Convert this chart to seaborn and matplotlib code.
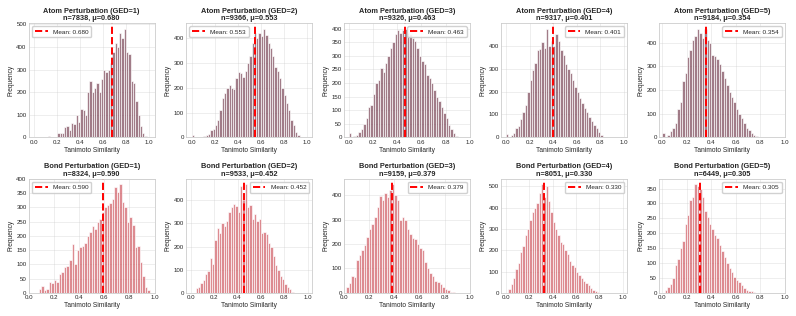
import numpy as np
import pandas as pd
import matplotlib
matplotlib.use("Agg")
import matplotlib.pyplot as plt
import seaborn as sns

# bins of width 0.02 from 0.0 to 1.0, counts
bin_edges = [round(0.02 * i, 2) for i in range(51)]
bin_centers = [round(0.02 * i + 0.01, 3) for i in range(50)]


def pad(start, vals):
    # place counts starting at bin index `start`, zeros elsewhere
    out = [0] * 50
    for i, v in enumerate(vals):
        out[start + i] = v
    return out


# Atom perturbation, GED = 1..5
atom_ged1 = pad(6, [5, 0, 0, 0, 20, 20, 20, 45, 50, 35, 65, 60, 100, 70, 125, 120, 100,
                    200, 250, 200, 220, 240, 200, 260, 300, 290, 300, 330, 380, 420, 400,
                    460, 440, 482, 380, 370, 250, 240, 160, 100, 50, 20, 5])
atom_ged2 = pad(0, [10, 0, 0, 0, 0, 5, 10, 15, 30, 35, 50, 70, 110, 160, 180, 200, 210, 200,
                    195, 240, 265, 260, 245, 270, 300, 330, 380, 420, 400, 420, 410, 440,
                    415, 380, 360, 330, 285, 270, 240, 200, 170, 140, 110, 70, 50, 20, 10])
atom_ged3 = pad(0, [15, 0, 5, 10, 20, 30, 50, 70, 110, 120, 160, 200, 210, 255, 240, 275,
                    300, 330, 350, 380, 395, 385, 395, 400, 385, 380, 365, 355, 330, 300,
                    280, 270, 230, 220, 200, 175, 150, 135, 110, 90, 70, 45, 30, 15, 5])
atom_ged4 = pad(0, [15, 0, 10, 20, 40, 50, 80, 110, 140, 200, 250, 295, 325, 380, 385, 415,
                    390, 475, 400, 420, 400, 450, 420, 380, 360, 320, 300, 280, 250, 220,
                    200, 170, 150, 130, 110, 90, 70, 55, 40, 25, 10, 3])
atom_ged5 = pad(0, [20, 0, 10, 25, 40, 60, 120, 150, 240, 270, 340, 370, 410, 430, 460, 440,
                    420, 460, 410, 400, 350, 345, 330, 310, 280, 250, 220, 190, 170, 150,
                    120, 100, 80, 60, 40, 30, 20, 12, 5, 2])

# Bond perturbation, GED = 1..5
bond_ged1 = pad(4, [15, 25, 10, 15, 40, 35, 45, 40, 65, 75, 90, 95, 115, 170, 100, 150, 160,
                    165, 175, 200, 215, 235, 225, 250, 260, 285, 300, 310, 315, 330, 370,
                    355, 382, 320, 300, 250, 265, 240, 160, 165, 110, 60, 20, 10])
bond_ged2 = pad(2, [20, 25, 45, 55, 80, 95, 150, 125, 230, 280, 260, 300, 290, 310, 350, 370,
                    385, 375, 350, 460, 400, 470, 370, 380, 320, 340, 310, 320, 260, 265,
                    255, 215, 200, 160, 120, 100, 75, 60, 40, 25, 15, 5])
bond_ged3 = pad(1, [25, 40, 70, 65, 135, 155, 175, 195, 230, 260, 280, 310, 350, 395, 380,
                    410, 390, 420, 445, 400, 380, 300, 310, 300, 260, 240, 225, 220, 200,
                    185, 175, 125, 100, 80, 70, 50, 45, 35, 25, 15, 10, 5, 3])
bond_ged4 = pad(1, [20, 40, 70, 110, 140, 190, 220, 270, 300, 340, 380, 400, 420, 470, 510,
                    450, 500, 430, 380, 330, 300, 270, 240, 230, 200, 180, 150, 130, 120,
                    100, 85, 70, 55, 45, 35, 25, 15, 10, 5])
bond_ged5 = pad(1, [10, 20, 30, 50, 95, 115, 150, 175, 230, 260, 310, 320, 365, 360, 350,
                    320, 275, 255, 230, 215, 195, 185, 160, 140, 120, 100, 85, 70, 55, 45,
                    35, 25, 15, 10, 8, 5, 3])

atom_counts = [atom_ged1, atom_ged2, atom_ged3, atom_ged4, atom_ged5]
bond_counts = [bond_ged1, bond_ged2, bond_ged3, bond_ged4, bond_ged5]
atom_n = [7838, 9366, 9326, 9317, 9184]
atom_mean = [0.680, 0.553, 0.463, 0.401, 0.354]
bond_n = [8324, 9533, 9159, 8051, 6449]
bond_mean = [0.590, 0.452, 0.379, 0.330, 0.305]
ged_levels = [1, 2, 3, 4, 5]

atom_legend_loc = ["upper left", "upper left", "upper right", "upper right", "upper right"]
bond_legend_loc = ["upper left", "upper right", "upper right", "upper right", "upper right"]
atom_xlim = [(-0.05, 1.05), (-0.05, 1.05), (-0.04, 1.0), (-0.04, 1.03), (-0.03, 1.0)]
bond_xlim = [(0.0, 1.0), (-0.04, 1.04), (0.0, 1.0), (-0.04, 1.04), (-0.03, 1.0)]

sns.set_theme(style="whitegrid")
plt.rcParams["font.family"] = ["Liberation Sans", "DejaVu Sans"]

fig, axes = plt.subplots(2, 5, figsize=(7.96, 3.16), dpi=100)
fig.subplots_adjust(left=0.036, right=0.986, top=0.927, bottom=0.073, wspace=0.25, hspace=0.36)

rows = [("Atom", atom_counts, atom_n, atom_mean, "#7a4456", atom_legend_loc, atom_xlim),
        ("Bond", bond_counts, bond_n, bond_mean, "#cf5a62", bond_legend_loc, bond_xlim)]

for r, (kind, counts, ns, means, color, locs, xlims) in enumerate(rows):
    for c in range(5):
        ax = axes[r, c]
        df = pd.DataFrame({"sim": bin_centers, "count": counts[c]})
        sns.histplot(data=df, x="sim", weights="count", bins=bin_edges, color=color,
                     alpha=0.7, edgecolor="white", linewidth=0.45, ax=ax)
        ax.axvline(means[c], color="red", linestyle="--", linewidth=1.4,
                   label=f"Mean: {means[c]:.3f}")
        ax.set_title(f"{kind} Perturbation (GED={ged_levels[c]})\nn={ns[c]}, \u03bc={means[c]:.3f}",
                     fontsize=5.3, fontweight="bold", pad=2, linespacing=1.15)
        ax.set_xlabel("Tanimoto Similarity", fontsize=4.8, labelpad=1.5)
        ax.set_ylabel("Frequency", fontsize=4.8, labelpad=1.5)
        ax.set_xlim(*xlims[c])
        ax.tick_params(labelsize=4.4, pad=1.5, length=0)
        ax.grid(linewidth=0.4, alpha=0.6)
        for s in ax.spines.values():
            s.set_linewidth(0.6)
        ax.legend(loc=locs[c], fontsize=4.6, frameon=True, handlelength=2.0,
                  borderpad=0.45, framealpha=0.9)

fig.savefig("out.png", dpi=100)
